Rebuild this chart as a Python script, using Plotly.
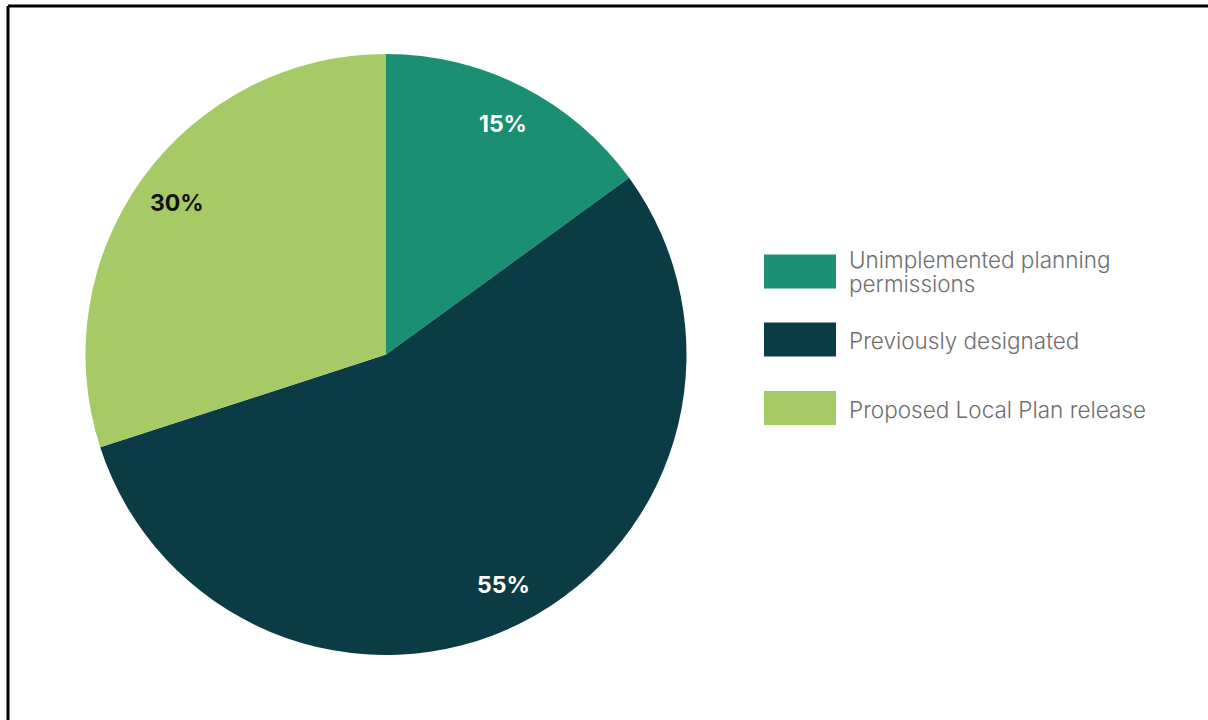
import math
import plotly.graph_objects as go

# Share of housing land supply by source
labels = [
    "Unimplemented planning permissions",
    "Previously designated",
    "Proposed Local Plan release",
]
shares = [15, 55, 30]
colors = ["#1A8F73", "#0B3B44", "#A6CA65"]
label_colors = ["#FFFFFF", "#FFFFFF", "#111111"]

W, H = 1208, 720
# pie placement in pixels
pie_cx, pie_cy, pie_r = 386, 354.5, 300.5

fig = go.Figure(
    go.Pie(
        labels=labels,
        values=shares,
        sort=False,
        direction="clockwise",
        rotation=0,
        marker=dict(colors=colors, line=dict(width=0)),
        textinfo="none",
        hoverinfo="label+percent",
        showlegend=False,
        domain=dict(
            x=[(pie_cx - pie_r) / W, (pie_cx + pie_r) / W],
            y=[1 - (pie_cy + pie_r) / H, 1 - (pie_cy - pie_r) / H],
        ),
    )
)

annotations = []
shapes = []

# percentage labels placed at each slice's mid-angle
total = sum(shares)
cum = 0
for v, c in zip(shares, label_colors):
    mid = (cum + v / 2) / total * 2 * math.pi
    cum += v
    rr = 0.86 * pie_r
    px = pie_cx + rr * math.sin(mid)
    py = pie_cy - rr * math.cos(mid)
    annotations.append(
        dict(
            x=px / W, y=1 - py / H, xref="paper", yref="paper",
            text=f"<b>{v}%</b>", showarrow=False,
            font=dict(family="Inter", size=23, color=c),
            xanchor="center", yanchor="middle",
        )
    )


def wrap(text, width=27):
    lines, cur = [], ""
    for w in text.split():
        if cur and len(cur) + 1 + len(w) > width:
            lines.append(cur)
            cur = w
        else:
            cur = (cur + " " + w).strip()
    lines.append(cur)
    return lines


# legend: wide swatches with labels to the right
sw_x0, sw_x1 = 764, 836
sw_h = 34
sw_tops = [254.5, 322.5, 391]
text_x = 847
line_gap = 23.5
for lab, col, top in zip(labels, colors, sw_tops):
    shapes.append(
        dict(
            type="rect", xref="paper", yref="paper",
            x0=sw_x0 / W, x1=sw_x1 / W,
            y0=1 - (top + sw_h) / H, y1=1 - top / H,
            fillcolor=col, line=dict(width=0),
        )
    )
    lines = wrap(lab)
    cy = top + sw_h / 2 + (-(len(lines) - 1) * line_gap / 2 if len(lines) > 1 else 1)
    for i, ln in enumerate(lines):
        annotations.append(
            dict(
                x=text_x / W, y=1 - (cy + i * line_gap) / H,
                xref="paper", yref="paper", text=ln, showarrow=False,
                font=dict(family="Inter", size=22.5, color="#6E6E6E", weight=300),
                xanchor="left", yanchor="middle",
            )
        )

# frame lines along the top and left edges
shapes.append(dict(type="line", xref="paper", yref="paper",
                   x0=8 / W, x1=1.02, y0=1 - 6 / H, y1=1 - 6 / H,
                   line=dict(color="black", width=3)))
shapes.append(dict(type="line", xref="paper", yref="paper",
                   x0=8 / W, x1=8 / W, y0=-0.02, y1=1 - 6 / H,
                   line=dict(color="black", width=3)))

fig.update_layout(
    width=W, height=H,
    margin=dict(l=0, r=0, t=0, b=0),
    paper_bgcolor="white", plot_bgcolor="white",
    annotations=annotations, shapes=shapes,
    showlegend=False,
)

fig.write_html("out.html")
